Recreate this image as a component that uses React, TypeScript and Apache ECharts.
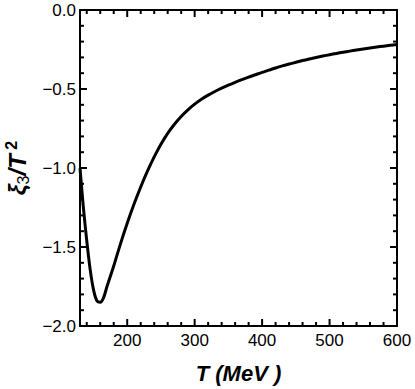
import React, { useEffect, useRef } from "react";
import * as echarts from "echarts";

const temperatures = [130, 135, 140, 145, 150, 155, 160, 165, 170, 180, 190, 200, 210, 220, 230, 240, 250, 260, 270, 280, 290, 300, 310, 320, 330, 340, 350, 360, 370, 380, 390, 400, 410, 420, 430, 440, 450, 460, 470, 480, 490, 500, 510, 520, 530, 540, 550, 560, 570, 580, 590, 600];
const xiValues = [-1.0, -1.25, -1.46, -1.64, -1.77, -1.84, -1.85, -1.82, -1.75, -1.62, -1.48, -1.35, -1.23, -1.12, -1.02, -0.93, -0.85, -0.781, -0.723, -0.674, -0.632, -0.596, -0.565, -0.539, -0.516, -0.495, -0.476, -0.458, -0.441, -0.425, -0.41, -0.395, -0.381, -0.367, -0.354, -0.342, -0.331, -0.32, -0.31, -0.3005, -0.2915, -0.283, -0.275, -0.2675, -0.2603, -0.2534, -0.2468, -0.2405, -0.2345, -0.2288, -0.2234, -0.2183];
const xMajorTicks = [200, 300, 400, 500, 600];
const xMinorTicks = [140, 160, 180, 220, 240, 260, 280, 320, 340, 360, 380, 420, 440, 460, 480, 520, 540, 560, 580];
const yMajorTicks = [-2, -1.5, -1, -0.5, 0];
const yMinorTicks = [-1.9, -1.8, -1.7, -1.6, -1.4, -1.3, -1.2, -1.1, -0.9, -0.8, -0.7, -0.6, -0.4, -0.3, -0.2, -0.1];

const X_MIN = 130;
const X_MAX = 600;
const Y_MIN = -2;
const Y_MAX = 0;

export default function App() {
  const ref = useRef<HTMLDivElement>(null);
  useEffect(() => {
    document.body.style.margin = "0";
    const chart = echarts.init(ref.current!, null, { renderer: "svg" });
    const font = "'Liberation Sans', Arial, sans-serif";
    const tickStyle = () => ({ stroke: "#000000", lineWidth: 2 });

    const xTickSeries = (values: number[], len: number) => ({
      type: "custom",
      coordinateSystem: "cartesian2d",
      xAxisIndex: 0,
      yAxisIndex: 0,
      clip: false,
      silent: true,
      z: 5,
      data: values.map((v) => [v, Y_MIN]),
      renderItem: (_p: any, api: any) => {
        const v = api.value(0);
        const b = api.coord([v, Y_MIN]);
        const t = api.coord([v, Y_MAX]);
        return {
          type: "group",
          children: [
            { type: "line", shape: { x1: b[0], y1: b[1], x2: b[0], y2: b[1] - len }, style: tickStyle() },
            { type: "line", shape: { x1: t[0], y1: t[1], x2: t[0], y2: t[1] + len }, style: tickStyle() },
          ],
        };
      },
    });
    const yTickSeries = (values: number[], len: number) => ({
      type: "custom",
      coordinateSystem: "cartesian2d",
      xAxisIndex: 0,
      yAxisIndex: 0,
      clip: false,
      silent: true,
      z: 5,
      data: values.map((v) => [X_MIN, v]),
      renderItem: (_p: any, api: any) => {
        const v = api.value(1);
        const l = api.coord([X_MIN, v]);
        const r = api.coord([X_MAX, v]);
        return {
          type: "group",
          children: [
            { type: "line", shape: { x1: l[0], y1: l[1], x2: l[0] + len, y2: l[1] }, style: tickStyle() },
            { type: "line", shape: { x1: r[0], y1: r[1], x2: r[0] - len, y2: r[1] }, style: tickStyle() },
          ],
        };
      },
    });

    const xAxisBase = (position: string, labels: boolean) => ({
      type: "value",
      position,
      min: X_MIN,
      max: X_MAX,
      axisLine: { show: true, onZero: false, lineStyle: { color: "#000", width: 2 } },
      splitLine: { show: false },
      axisTick: { show: false },
      axisLabel: labels
        ? { show: true, customValues: xMajorTicks, fontSize: 17, color: "#000", fontFamily: font, margin: 6 }
        : { show: false },
    });
    const yAxisBase = (position: string, labels: boolean) => ({
      type: "value",
      position,
      min: Y_MIN,
      max: Y_MAX,
      interval: 0.5,
      axisLine: { show: true, onZero: false, lineStyle: { color: "#000", width: 2 } },
      splitLine: { show: false },
      axisTick: { show: false },
      axisLabel: labels
        ? {
            show: true,
            fontSize: 17,
            color: "#000",
            fontFamily: font,
            margin: 4,
            formatter: (v: number) => (v === 0 ? "0.0" : "\u2212" + Math.abs(v).toFixed(1)),
          }
        : { show: false },
    });
    const x0: any = xAxisBase("bottom", true);
    x0.name = "{a|T (MeV )}";
    x0.nameLocation = "middle";
    x0.nameGap = 36;
    x0.nameTextStyle = {
      rich: { a: { fontSize: 22, fontWeight: "bold", fontStyle: "italic", fontFamily: font, color: "#000" } },
    };
    const y0: any = yAxisBase("left", true);
    y0.name = "{a|\u03BE}{s|3}{a|/T}{p| 2}";
    y0.nameLocation = "middle";
    y0.nameRotate = 90;
    y0.nameGap = 44;
    y0.nameTextStyle = {
      rich: {
        a: { fontSize: 24, fontWeight: "bold", fontStyle: "italic", fontFamily: font, color: "#000", lineHeight: 28 },
        s: { fontSize: 16, fontFamily: font, color: "#000", lineHeight: 12, verticalAlign: "bottom" },
        p: { fontSize: 16, fontWeight: "bold", fontFamily: font, color: "#000", lineHeight: 14, verticalAlign: "top" },
      },
    };
    chart.setOption({
      animation: false,
      grid: { left: 80, right: 18, top: 10, bottom: 63, outerBoundsMode: "none" },
      xAxis: [x0, xAxisBase("top", false)],
      yAxis: [y0, yAxisBase("right", false)],
      series: [
        {
          type: "line",
          xAxisIndex: 0,
          yAxisIndex: 0,
          data: temperatures.map((t, i) => [t, xiValues[i]]),
          showSymbol: false,
          smooth: 0.3,
          lineStyle: { color: "#000", width: 3 },
          clip: true,
          z: 3,
        },
        xTickSeries(xMajorTicks, 7),
        xTickSeries(xMinorTicks, 4),
        yTickSeries(yMajorTicks, 7),
        yTickSeries(yMinorTicks, 4),
      ],
    });
    return () => chart.dispose();
  }, []);
  return <div ref={ref} style={{ width: 415, height: 389 }} />;
}
